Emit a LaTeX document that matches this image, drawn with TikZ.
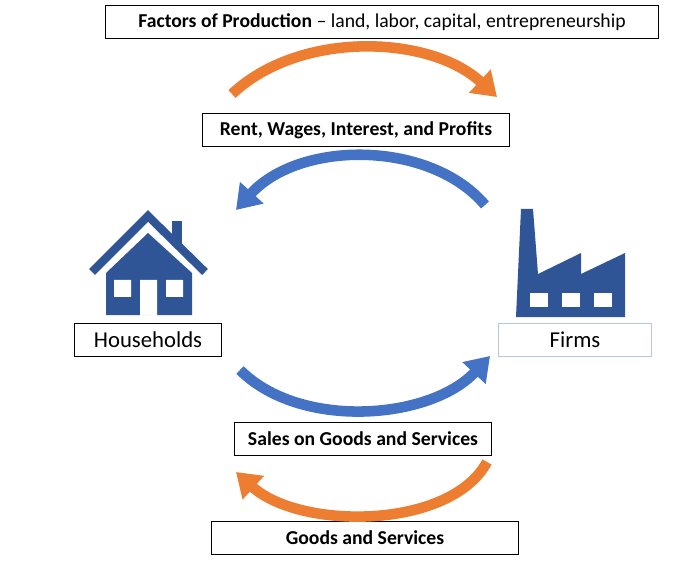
\documentclass[tikz,border=0pt]{standalone}
\usepackage{fontspec}
\setmainfont{Carlito}
\usetikzlibrary{arrows.meta, positioning}
\definecolor{flowOrange}{RGB}{237,125,49}
\definecolor{flowBlue}{RGB}{68,114,196}
\definecolor{iconBlue}{RGB}{47,85,151}
\definecolor{firmEdge}{RGB}{180,199,231}

\begin{document}
\begin{tikzpicture} [
        x = 0.03cm, y = -0.03cm,
        box/.style = {draw, thick, minimum height = 1cm, inner sep = 2pt, font = \fontsize{16.8}{19}\selectfont},
        bigbox/.style = {box, font = \fontsize{19.4}{22}\selectfont},
        flow/.style = {line width = 9pt, -{Triangle[width = 26pt, length = 20pt]}},
        icon/.style = {fill = iconBlue}
    ]
    \useasboundingbox (0,0) rectangle (697,569);

    \node[box, minimum width = 16.6cm] (factors) at (382,22) {\textbf{Factors of Production} -- land, labor, capital, entrepreneurship};
    \node[box, minimum width = 9.2cm]  (rent)    at (356,130) {\textbf{Rent, Wages, Interest, and Profits}};
    \node[bigbox, minimum width = 4.4cm]  (house)   at (148,340) {Households};
    \node[bigbox, draw = firmEdge, minimum width = 4.6cm] (firms) at (575,340) {Firms};
    \node[box, minimum width = 7.7cm]  (sales)   at (363,439) {\textbf{Sales on Goods and Services}};
    \node[box, minimum width = 9.2cm]  (goods)   at (365,538) {\textbf{Goods and Services}};

    % flows
    \coordinate (a1) at (232,94);  \coordinate (a2) at (497,97);
    \coordinate (b1) at (485,205); \coordinate (b2) at (236,210);
    \coordinate (c1) at (240,370); \coordinate (c2) at (490,356);
    \coordinate (d1) at (487,462); \coordinate (d2) at (236,472);
    \draw[flow, flowOrange] (a1) .. controls (300,30) and (430,35) .. (a2);
    \draw[flow, flowBlue]   (b1) .. controls (430,140) and (300,140) .. (b2);
    \draw[flow, flowBlue]   (c1) .. controls (300,430) and (430,420) .. (c2);
    \draw[flow, flowOrange] (d1) .. controls (450,530) and (300,530) .. (d2);

    % household icon
    \draw[iconBlue, line width = 7pt, line cap = butt] (92,272) -- (148,216) -- (205,272);
    \fill[icon] (172,221) rectangle (182,246);
    \fill[icon] (106,315) -- (106,273) -- (148,233) -- (192,273) -- (192,315) -- cycle;
    \fill[white] (114,280) rectangle (131,297) (166,280) rectangle (183,297) (140,280) rectangle (157,315.5);

    % firm icon
    \fill[icon] (516,317) -- (521,209) -- (533,209) -- (538,274) -- (581,253) -- (581,274)
        -- (625,253) -- (625,317) -- cycle;
    \foreach \wx in {530,562,594}
        \fill[white] (\wx,293) rectangle ++(18,14);
\end{tikzpicture}
\end{document}
